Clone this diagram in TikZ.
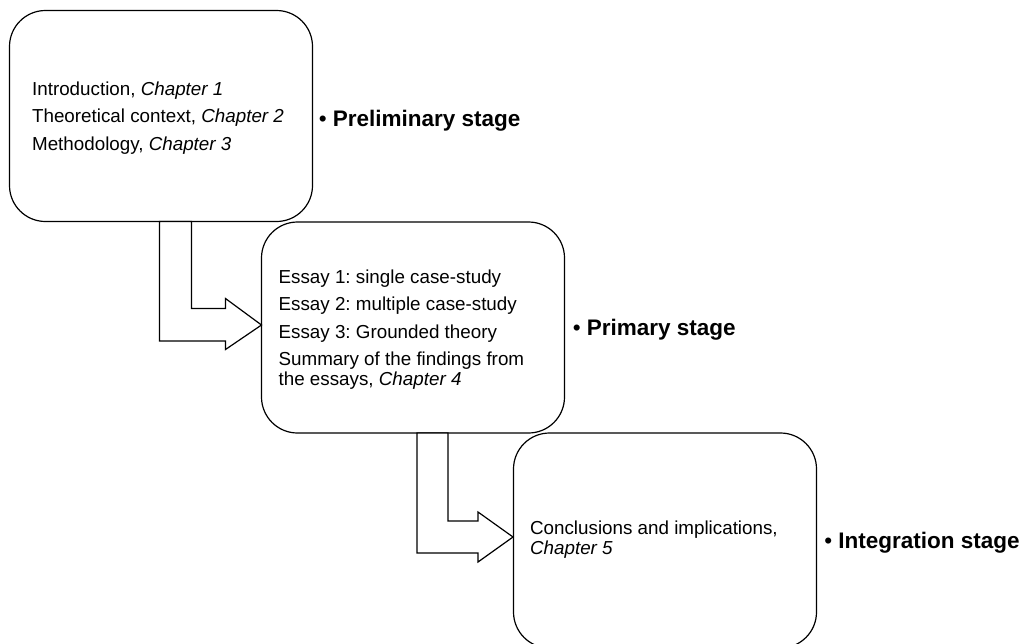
\documentclass[tikz,border=0pt]{standalone}
\usepackage{fontspec}
\setmainfont{Liberation Sans}
\usetikzlibrary{calc}
\frenchspacing
\begin{document}
\begin{tikzpicture}[x=1pt,y=-1pt,
  stagebox/.style={draw=black,line width=1.2pt,rounded corners=36pt,minimum width=303pt,minimum height=211pt,inner sep=0pt},
  boxtext/.style={anchor=west,align=left,inner sep=0pt,font=\fontsize{18.8}{20}\selectfont},
  stagelabel/.style={anchor=base west,inner sep=0pt,font=\fontsize{22.5}{26}\selectfont},
  blockarrow/.style={draw=black,line width=1.2pt,fill=white,line join=miter}]
\useasboundingbox (0,0) rectangle (1027,643);

\coordinate (a1top) at (159.5,221.5);
\coordinate (a1tip) at (261.5,325);
\coordinate (a2top) at (417,433);
\coordinate (a2tip) at (513,537);

\node[stagebox] (b1) at (161,116) {};
\node[stagebox] (b2) at (413,327.5) {};
\node[stagebox,minimum height=215pt] (b3) at (665,540.5) {};

\draw[blockarrow] (a1top) -- ++(32,0) |- ($(a1tip)+(-36,-16.5)$) -- ++(0,-10) -- (a1tip)
  -- ++(-36,24.5) -- ++(0,-8.5) -| (a1top) -- cycle;
\draw[blockarrow] (a2top) -- ++(31,0) |- ($(a2tip)+(-35,-16)$) -- ++(0,-9) -- (a2tip)
  -- ++(-35,25) -- ++(0,-9) -| (a2top) -- cycle;

\node[boxtext] (t1) at ($(b1.west)+(23,2)$) {Introduction, \textit{Chapter 1}\\[7.5pt]
  Theoretical context, \textit{Chapter 2}\\[7.5pt]
  Methodology, \textit{Chapter 3}};
\node[boxtext] (t2) at ($(b2.west)+(17.5,2)$) {Essay 1: single case-study\\[7.5pt]
  Essay 2: multiple case-study\\[7.5pt]
  Essay 3: Grounded theory\\[7.5pt]
  Summary of the findings from\\
  the essays, \textit{Chapter 4}};
\node[boxtext] (t3) at ($(b3.west)+(17,-0.5)$) {Conclusions and implications,\\
  \textit{Chapter 5}};

\node[stagelabel] (s1) at ($(b1.east)+(5.5,10)$) {\textbullet{} \textbf{Preliminary stage}};
\node[stagelabel] (s2) at ($(b2.east)+(7.5,7.5)$) {\textbullet{} \textbf{Primary stage}};
\node[stagelabel] (s3) at ($(b3.east)+(7,7.5)$) {\textbullet{} \textbf{Integration stage}};
\end{tikzpicture}
\end{document}
